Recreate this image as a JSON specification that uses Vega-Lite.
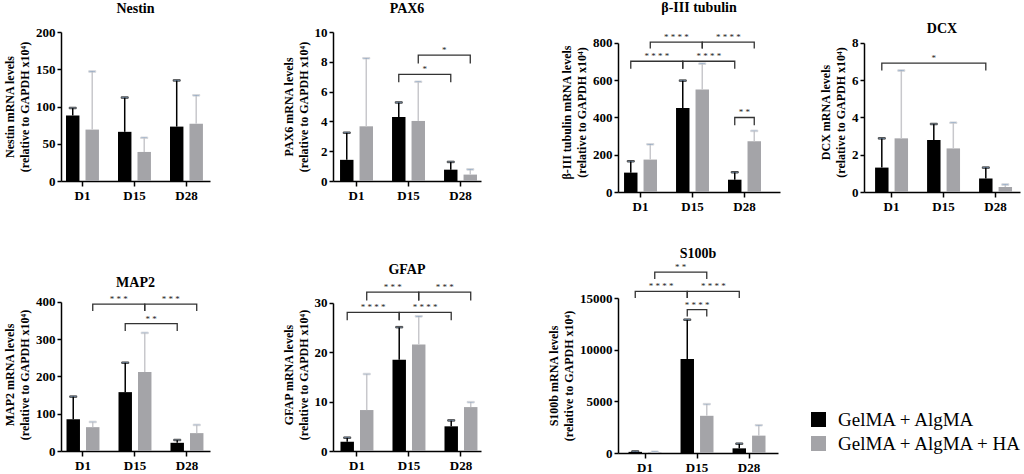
{
  "$schema": "https://vega.github.io/schema/vega-lite/v6.json",
  "background": "white",
  "padding": {"left": 3, "top": 1, "right": 0, "bottom": 0},
  "bounds": "flush",
  "columns": 7,
  "spacing": {"row": 106, "column": 0},
  "resolve": {"scale": {"fill": "independent"}, "legend": {"fill": "independent"}},
  "datasets": {
    "bars": [
      {"panel": "Nestin", "day": "D1", "grp": "GelMA + AlgMA", "mean": 88, "upper": 98},
      {"panel": "Nestin", "day": "D1", "grp": "GelMA + AlgMA + HA", "mean": 69, "upper": 147},
      {"panel": "Nestin", "day": "D15", "grp": "GelMA + AlgMA", "mean": 66, "upper": 112},
      {"panel": "Nestin", "day": "D15", "grp": "GelMA + AlgMA + HA", "mean": 39, "upper": 58},
      {"panel": "Nestin", "day": "D28", "grp": "GelMA + AlgMA", "mean": 73, "upper": 135},
      {"panel": "Nestin", "day": "D28", "grp": "GelMA + AlgMA + HA", "mean": 77, "upper": 115},
      {"panel": "PAX6", "day": "D1", "grp": "GelMA + AlgMA", "mean": 1.42, "upper": 3.24},
      {"panel": "PAX6", "day": "D1", "grp": "GelMA + AlgMA + HA", "mean": 3.67, "upper": 8.24},
      {"panel": "PAX6", "day": "D15", "grp": "GelMA + AlgMA", "mean": 4.3, "upper": 5.27},
      {"panel": "PAX6", "day": "D15", "grp": "GelMA + AlgMA + HA", "mean": 4.03, "upper": 6.66},
      {"panel": "PAX6", "day": "D28", "grp": "GelMA + AlgMA", "mean": 0.76, "upper": 1.28},
      {"panel": "PAX6", "day": "D28", "grp": "GelMA + AlgMA + HA", "mean": 0.43, "upper": 0.78},
      {"panel": "bIII", "day": "D1", "grp": "GelMA + AlgMA", "mean": 104, "upper": 165},
      {"panel": "bIII", "day": "D1", "grp": "GelMA + AlgMA + HA", "mean": 174, "upper": 256},
      {"panel": "bIII", "day": "D15", "grp": "GelMA + AlgMA", "mean": 451, "upper": 598},
      {"panel": "bIII", "day": "D15", "grp": "GelMA + AlgMA + HA", "mean": 550, "upper": 689},
      {"panel": "bIII", "day": "D28", "grp": "GelMA + AlgMA", "mean": 66, "upper": 106},
      {"panel": "bIII", "day": "D28", "grp": "GelMA + AlgMA + HA", "mean": 272, "upper": 328},
      {"panel": "DCX", "day": "D1", "grp": "GelMA + AlgMA", "mean": 1.31, "upper": 2.88},
      {"panel": "DCX", "day": "D1", "grp": "GelMA + AlgMA + HA", "mean": 2.88, "upper": 6.52},
      {"panel": "DCX", "day": "D15", "grp": "GelMA + AlgMA", "mean": 2.79, "upper": 3.65},
      {"panel": "DCX", "day": "D15", "grp": "GelMA + AlgMA + HA", "mean": 2.34, "upper": 3.72},
      {"panel": "DCX", "day": "D28", "grp": "GelMA + AlgMA", "mean": 0.72, "upper": 1.31},
      {"panel": "DCX", "day": "D28", "grp": "GelMA + AlgMA + HA", "mean": 0.27, "upper": 0.4},
      {"panel": "MAP2", "day": "D1", "grp": "GelMA + AlgMA", "mean": 85, "upper": 146},
      {"panel": "MAP2", "day": "D1", "grp": "GelMA + AlgMA + HA", "mean": 64, "upper": 78},
      {"panel": "MAP2", "day": "D15", "grp": "GelMA + AlgMA", "mean": 158, "upper": 237},
      {"panel": "MAP2", "day": "D15", "grp": "GelMA + AlgMA + HA", "mean": 212, "upper": 317},
      {"panel": "MAP2", "day": "D28", "grp": "GelMA + AlgMA", "mean": 22, "upper": 29.5},
      {"panel": "MAP2", "day": "D28", "grp": "GelMA + AlgMA + HA", "mean": 48, "upper": 70},
      {"panel": "GFAP", "day": "D1", "grp": "GelMA + AlgMA", "mean": 1.9, "upper": 2.7},
      {"panel": "GFAP", "day": "D1", "grp": "GelMA + AlgMA + HA", "mean": 8.3, "upper": 15.6},
      {"panel": "GFAP", "day": "D15", "grp": "GelMA + AlgMA", "mean": 18.5, "upper": 25.1},
      {"panel": "GFAP", "day": "D15", "grp": "GelMA + AlgMA + HA", "mean": 21.6, "upper": 27.3},
      {"panel": "GFAP", "day": "D28", "grp": "GelMA + AlgMA", "mean": 5.0, "upper": 6.2},
      {"panel": "GFAP", "day": "D28", "grp": "GelMA + AlgMA + HA", "mean": 8.9, "upper": 9.9},
      {"panel": "S100b", "day": "D1", "grp": "GelMA + AlgMA", "mean": 110, "upper": 150},
      {"panel": "S100b", "day": "D1", "grp": "GelMA + AlgMA + HA", "mean": 90, "upper": 120},
      {"panel": "S100b", "day": "D15", "grp": "GelMA + AlgMA", "mean": 9100, "upper": 12900},
      {"panel": "S100b", "day": "D15", "grp": "GelMA + AlgMA + HA", "mean": 3600, "upper": 4730},
      {"panel": "S100b", "day": "D28", "grp": "GelMA + AlgMA", "mean": 450, "upper": 900},
      {"panel": "S100b", "day": "D28", "grp": "GelMA + AlgMA + HA", "mean": 1680, "upper": 2690}
    ],
    "br": [
      {"panel": "PAX6", "id": "p1", "day": "D15", "grp": "GelMA + AlgMA", "y": 6.62},
      {"panel": "PAX6", "id": "p1", "day": "D15", "grp": "GelMA + AlgMA", "y": 7.16},
      {"panel": "PAX6", "id": "p1", "day": "D28", "grp": "GelMA + AlgMA", "y": 7.16},
      {"panel": "PAX6", "id": "p1", "day": "D28", "grp": "GelMA + AlgMA", "y": 6.62},
      {"panel": "PAX6", "id": "p2", "day": "D15", "grp": "GelMA + AlgMA + HA", "y": 7.88},
      {"panel": "PAX6", "id": "p2", "day": "D15", "grp": "GelMA + AlgMA + HA", "y": 8.45},
      {"panel": "PAX6", "id": "p2", "day": "D28", "grp": "GelMA + AlgMA + HA", "y": 8.45},
      {"panel": "PAX6", "id": "p2", "day": "D28", "grp": "GelMA + AlgMA + HA", "y": 7.88},
      {"panel": "bIII", "id": "b1", "day": "D1", "grp": "GelMA + AlgMA", "y": 662},
      {"panel": "bIII", "id": "b1", "day": "D1", "grp": "GelMA + AlgMA", "y": 702},
      {"panel": "bIII", "id": "b1", "day": "D15", "grp": "GelMA + AlgMA", "y": 702},
      {"panel": "bIII", "id": "b1", "day": "D15", "grp": "GelMA + AlgMA", "y": 662},
      {"panel": "bIII", "id": "b2", "day": "D15", "grp": "GelMA + AlgMA", "y": 662},
      {"panel": "bIII", "id": "b2", "day": "D15", "grp": "GelMA + AlgMA", "y": 702},
      {"panel": "bIII", "id": "b2", "day": "D28", "grp": "GelMA + AlgMA", "y": 702},
      {"panel": "bIII", "id": "b2", "day": "D28", "grp": "GelMA + AlgMA", "y": 662},
      {"panel": "bIII", "id": "b3", "day": "D1", "grp": "GelMA + AlgMA + HA", "y": 770},
      {"panel": "bIII", "id": "b3", "day": "D1", "grp": "GelMA + AlgMA + HA", "y": 805},
      {"panel": "bIII", "id": "b3", "day": "D15", "grp": "GelMA + AlgMA + HA", "y": 805},
      {"panel": "bIII", "id": "b3", "day": "D15", "grp": "GelMA + AlgMA + HA", "y": 770},
      {"panel": "bIII", "id": "b4", "day": "D15", "grp": "GelMA + AlgMA + HA", "y": 770},
      {"panel": "bIII", "id": "b4", "day": "D15", "grp": "GelMA + AlgMA + HA", "y": 805},
      {"panel": "bIII", "id": "b4", "day": "D28", "grp": "GelMA + AlgMA + HA", "y": 805},
      {"panel": "bIII", "id": "b4", "day": "D28", "grp": "GelMA + AlgMA + HA", "y": 770},
      {"panel": "bIII", "id": "b5", "day": "D28", "grp": "GelMA + AlgMA", "y": 358},
      {"panel": "bIII", "id": "b5", "day": "D28", "grp": "GelMA + AlgMA", "y": 400},
      {"panel": "bIII", "id": "b5", "day": "D28", "grp": "GelMA + AlgMA + HA", "y": 400},
      {"panel": "bIII", "id": "b5", "day": "D28", "grp": "GelMA + AlgMA + HA", "y": 358},
      {"panel": "DCX", "id": "d1", "day": "D1", "grp": "GelMA + AlgMA", "y": 6.52},
      {"panel": "DCX", "id": "d1", "day": "D1", "grp": "GelMA + AlgMA", "y": 6.92},
      {"panel": "DCX", "id": "d1", "day": "D28", "grp": "GelMA + AlgMA", "y": 6.92},
      {"panel": "DCX", "id": "d1", "day": "D28", "grp": "GelMA + AlgMA", "y": 6.52},
      {"panel": "MAP2", "id": "m1", "day": "D1", "grp": "GelMA + AlgMA + HA", "y": 376},
      {"panel": "MAP2", "id": "m1", "day": "D1", "grp": "GelMA + AlgMA + HA", "y": 394},
      {"panel": "MAP2", "id": "m1", "day": "D15", "grp": "GelMA + AlgMA + HA", "y": 394},
      {"panel": "MAP2", "id": "m1", "day": "D15", "grp": "GelMA + AlgMA + HA", "y": 376},
      {"panel": "MAP2", "id": "m2", "day": "D15", "grp": "GelMA + AlgMA + HA", "y": 376},
      {"panel": "MAP2", "id": "m2", "day": "D15", "grp": "GelMA + AlgMA + HA", "y": 394},
      {"panel": "MAP2", "id": "m2", "day": "D28", "grp": "GelMA + AlgMA + HA", "y": 394},
      {"panel": "MAP2", "id": "m2", "day": "D28", "grp": "GelMA + AlgMA + HA", "y": 376},
      {"panel": "MAP2", "id": "m3", "day": "D15", "grp": "GelMA + AlgMA", "y": 322},
      {"panel": "MAP2", "id": "m3", "day": "D15", "grp": "GelMA + AlgMA", "y": 342},
      {"panel": "MAP2", "id": "m3", "day": "D28", "grp": "GelMA + AlgMA", "y": 342},
      {"panel": "MAP2", "id": "m3", "day": "D28", "grp": "GelMA + AlgMA", "y": 322},
      {"panel": "GFAP", "id": "g1", "day": "D1", "grp": "GelMA + AlgMA", "y": 26.5},
      {"panel": "GFAP", "id": "g1", "day": "D1", "grp": "GelMA + AlgMA", "y": 28.1},
      {"panel": "GFAP", "id": "g1", "day": "D15", "grp": "GelMA + AlgMA", "y": 28.1},
      {"panel": "GFAP", "id": "g1", "day": "D15", "grp": "GelMA + AlgMA", "y": 26.5},
      {"panel": "GFAP", "id": "g2", "day": "D15", "grp": "GelMA + AlgMA", "y": 26.5},
      {"panel": "GFAP", "id": "g2", "day": "D15", "grp": "GelMA + AlgMA", "y": 28.1},
      {"panel": "GFAP", "id": "g2", "day": "D28", "grp": "GelMA + AlgMA", "y": 28.1},
      {"panel": "GFAP", "id": "g2", "day": "D28", "grp": "GelMA + AlgMA", "y": 26.5},
      {"panel": "GFAP", "id": "g3", "day": "D1", "grp": "GelMA + AlgMA + HA", "y": 30.5},
      {"panel": "GFAP", "id": "g3", "day": "D1", "grp": "GelMA + AlgMA + HA", "y": 32.2},
      {"panel": "GFAP", "id": "g3", "day": "D15", "grp": "GelMA + AlgMA + HA", "y": 32.2},
      {"panel": "GFAP", "id": "g3", "day": "D15", "grp": "GelMA + AlgMA + HA", "y": 30.5},
      {"panel": "GFAP", "id": "g4", "day": "D15", "grp": "GelMA + AlgMA + HA", "y": 30.5},
      {"panel": "GFAP", "id": "g4", "day": "D15", "grp": "GelMA + AlgMA + HA", "y": 32.2},
      {"panel": "GFAP", "id": "g4", "day": "D28", "grp": "GelMA + AlgMA + HA", "y": 32.2},
      {"panel": "GFAP", "id": "g4", "day": "D28", "grp": "GelMA + AlgMA + HA", "y": 30.5},
      {"panel": "S100b", "id": "s1", "day": "D1", "grp": "GelMA + AlgMA", "y": 15000},
      {"panel": "S100b", "id": "s1", "day": "D1", "grp": "GelMA + AlgMA", "y": 15650},
      {"panel": "S100b", "id": "s1", "day": "D15", "grp": "GelMA + AlgMA", "y": 15650},
      {"panel": "S100b", "id": "s1", "day": "D15", "grp": "GelMA + AlgMA", "y": 15000},
      {"panel": "S100b", "id": "s2", "day": "D15", "grp": "GelMA + AlgMA", "y": 15000},
      {"panel": "S100b", "id": "s2", "day": "D15", "grp": "GelMA + AlgMA", "y": 15650},
      {"panel": "S100b", "id": "s2", "day": "D28", "grp": "GelMA + AlgMA", "y": 15650},
      {"panel": "S100b", "id": "s2", "day": "D28", "grp": "GelMA + AlgMA", "y": 15000},
      {"panel": "S100b", "id": "s3", "day": "D1", "grp": "GelMA + AlgMA + HA", "y": 16850},
      {"panel": "S100b", "id": "s3", "day": "D1", "grp": "GelMA + AlgMA + HA", "y": 17500},
      {"panel": "S100b", "id": "s3", "day": "D15", "grp": "GelMA + AlgMA + HA", "y": 17500},
      {"panel": "S100b", "id": "s3", "day": "D15", "grp": "GelMA + AlgMA + HA", "y": 16850},
      {"panel": "S100b", "id": "s4", "day": "D15", "grp": "GelMA + AlgMA", "y": 13220},
      {"panel": "S100b", "id": "s4", "day": "D15", "grp": "GelMA + AlgMA", "y": 13870},
      {"panel": "S100b", "id": "s4", "day": "D15", "grp": "GelMA + AlgMA + HA", "y": 13870},
      {"panel": "S100b", "id": "s4", "day": "D15", "grp": "GelMA + AlgMA + HA", "y": 13220}
    ],
    "lab": [
      {"panel": "PAX6", "span": "adj", "day": "D15", "grp": "GelMA + AlgMA", "y": 7.16, "label": "*"},
      {"panel": "PAX6", "span": "adj", "day": "D15", "grp": "GelMA + AlgMA + HA", "y": 8.45, "label": "*"},
      {"panel": "bIII", "span": "adj", "day": "D1", "grp": "GelMA + AlgMA", "y": 702, "label": "* * * *"},
      {"panel": "bIII", "span": "adj", "day": "D15", "grp": "GelMA + AlgMA", "y": 702, "label": "* * * *"},
      {"panel": "bIII", "span": "adj", "day": "D1", "grp": "GelMA + AlgMA + HA", "y": 805, "label": "* * * *"},
      {"panel": "bIII", "span": "adj", "day": "D15", "grp": "GelMA + AlgMA + HA", "y": 805, "label": "* * * *"},
      {"panel": "bIII", "span": "in", "day": "D28", "grp": "GelMA + AlgMA", "y": 400, "label": "* *"},
      {"panel": "DCX", "span": "two", "day": "D1", "grp": "GelMA + AlgMA", "y": 6.92, "label": "*"},
      {"panel": "MAP2", "span": "adj", "day": "D1", "grp": "GelMA + AlgMA + HA", "y": 394, "label": "* * *"},
      {"panel": "MAP2", "span": "adj", "day": "D15", "grp": "GelMA + AlgMA + HA", "y": 394, "label": "* * *"},
      {"panel": "MAP2", "span": "adj", "day": "D15", "grp": "GelMA + AlgMA", "y": 342, "label": "* *"},
      {"panel": "GFAP", "span": "adj", "day": "D1", "grp": "GelMA + AlgMA", "y": 28.1, "label": "* * * *"},
      {"panel": "GFAP", "span": "adj", "day": "D15", "grp": "GelMA + AlgMA", "y": 28.1, "label": "* * * *"},
      {"panel": "GFAP", "span": "adj", "day": "D1", "grp": "GelMA + AlgMA + HA", "y": 32.2, "label": "* * *"},
      {"panel": "GFAP", "span": "adj", "day": "D15", "grp": "GelMA + AlgMA + HA", "y": 32.2, "label": "* * *"},
      {"panel": "S100b", "span": "adj", "day": "D1", "grp": "GelMA + AlgMA", "y": 15650, "label": "* * * *"},
      {"panel": "S100b", "span": "adj", "day": "D15", "grp": "GelMA + AlgMA", "y": 15650, "label": "* * * *"},
      {"panel": "S100b", "span": "adj", "day": "D1", "grp": "GelMA + AlgMA + HA", "y": 17500, "label": "* *"},
      {"panel": "S100b", "span": "in", "day": "D15", "grp": "GelMA + AlgMA", "y": 13870, "label": "* * * *"}
    ]
  },
  "concat": [
    {
      "title": {"text": "Nestin", "offset": 10},
      "width": 149, "height": 149,
      "encoding": {
        "x": {"field": "day", "type": "nominal", "title": null, "scale": {"domain": ["D1", "D15", "D28"], "paddingInner": 0.3, "paddingOuter": 0.083, "align": 0.38}},
        "xOffset": {"field": "grp", "type": "nominal", "scale": {"domain": ["GelMA + AlgMA", "GelMA + AlgMA + HA"], "paddingInner": 0.31, "paddingOuter": 0.088}}
      },
      "layer": [
        {"data": {"name": "bars"}, "transform": [{"filter": "datum.panel == 'Nestin'"}], "mark": "bar",
         "encoding": {
           "y": {"field": "mean", "type": "quantitative", "scale": {"domain": [0, 200], "nice": false}, "axis": {"values": [0, 50, 100, 150, 200], "tickCount": 20, "format": "d", "labelOverlap": false, "title": ["Nestin mRNA levels", "(relative to GAPDH x10⁴)"]}},
           "fill": {"field": "grp", "type": "nominal", "scale": {"domain": ["GelMA + AlgMA", "GelMA + AlgMA + HA"], "range": ["#000000", "#a4a4a8"]}, "legend": null}}},
        {"data": {"name": "bars"}, "transform": [{"filter": "datum.panel == 'Nestin'"}], "mark": "rule",
         "encoding": {"y": {"field": "mean", "type": "quantitative"}, "y2": {"field": "upper"},
           "stroke": {"condition": {"test": "datum.grp == 'GelMA + AlgMA'", "value": "#000000"}, "value": "#c8c8cc"}}},
        {"data": {"name": "bars"}, "transform": [{"filter": "datum.panel == 'Nestin'"}], "mark": {"type": "tick", "orient": "horizontal"},
         "encoding": {"y": {"field": "upper", "type": "quantitative"},
           "stroke": {"condition": {"test": "datum.grp == 'GelMA + AlgMA'", "value": "#000000"}, "value": "#c8c8cc"}}}
      ]
    },
    {"width": 123, "height": 1, "data": {"values": [{}]}, "mark": {"type": "text", "text": ""}},
    {
      "title": {"text": "PAX6", "offset": 10},
      "width": 148, "height": 149,
      "encoding": {
        "x": {"field": "day", "type": "nominal", "title": null, "scale": {"domain": ["D1", "D15", "D28"], "paddingInner": 0.3, "paddingOuter": 0.073, "align": 0.7}},
        "xOffset": {"field": "grp", "type": "nominal", "scale": {"domain": ["GelMA + AlgMA", "GelMA + AlgMA + HA"], "paddingInner": 0.31, "paddingOuter": 0.088}}
      },
      "layer": [
        {"data": {"name": "bars"}, "transform": [{"filter": "datum.panel == 'PAX6'"}], "mark": "bar",
         "encoding": {
           "y": {"field": "mean", "type": "quantitative", "scale": {"domain": [0, 10], "nice": false}, "axis": {"values": [0, 2, 4, 6, 8, 10], "tickCount": 20, "format": "d", "labelOverlap": false, "title": ["PAX6 mRNA levels", "(relative to GAPDH x10⁴)"]}},
           "fill": {"field": "grp", "type": "nominal", "scale": {"domain": ["GelMA + AlgMA", "GelMA + AlgMA + HA"], "range": ["#000000", "#a4a4a8"]}, "legend": null}}},
        {"data": {"name": "bars"}, "transform": [{"filter": "datum.panel == 'PAX6'"}], "mark": "rule",
         "encoding": {"y": {"field": "mean", "type": "quantitative"}, "y2": {"field": "upper"},
           "stroke": {"condition": {"test": "datum.grp == 'GelMA + AlgMA'", "value": "#000000"}, "value": "#c8c8cc"}}},
        {"data": {"name": "bars"}, "transform": [{"filter": "datum.panel == 'PAX6'"}], "mark": {"type": "tick", "orient": "horizontal"},
         "encoding": {"y": {"field": "upper", "type": "quantitative"},
           "stroke": {"condition": {"test": "datum.grp == 'GelMA + AlgMA'", "value": "#000000"}, "value": "#c8c8cc"}}},
        {"data": {"name": "br"}, "transform": [{"filter": "datum.panel == 'PAX6'"}], "mark": "line",
         "encoding": {"y": {"field": "y", "type": "quantitative"}, "detail": {"field": "id"}, "order": {"value": null}}},
        {"data": {"name": "lab"}, "transform": [{"filter": "datum.panel == 'PAX6' && datum.span == 'adj'"}], "mark": {"type": "text", "dx": 26},
         "encoding": {"y": {"field": "y", "type": "quantitative"}, "text": {"field": "label"}}}
      ]
    },
    {"width": 137, "height": 1, "data": {"values": [{}]}, "mark": {"type": "text", "text": ""}},
    {
      "title": {"text": "β-III tubulin", "offset": 17},
      "width": 162, "height": 160,
      "encoding": {
        "x": {"field": "day", "type": "nominal", "title": null, "scale": {"domain": ["D1", "D15", "D28"], "paddingInner": 0.3, "paddingOuter": 0.208, "align": 0.2}},
        "xOffset": {"field": "grp", "type": "nominal", "scale": {"domain": ["GelMA + AlgMA", "GelMA + AlgMA + HA"], "paddingInner": 0.31, "paddingOuter": 0.088}}
      },
      "layer": [
        {"data": {"name": "bars"}, "transform": [{"filter": "datum.panel == 'bIII'"}], "mark": "bar",
         "encoding": {
           "y": {"field": "mean", "type": "quantitative", "scale": {"domain": [0, 859], "nice": false}, "axis": {"values": [0, 200, 400, 600, 800], "tickCount": 20, "format": "d", "labelOverlap": false, "domainDash": [149, 40], "title": ["β-III tubulin mRNA levels", "(relative to GAPDH x10⁴)"]}},
           "fill": {"field": "grp", "type": "nominal", "scale": {"domain": ["GelMA + AlgMA", "GelMA + AlgMA + HA"], "range": ["#000000", "#a4a4a8"]}, "legend": null}}},
        {"data": {"name": "bars"}, "transform": [{"filter": "datum.panel == 'bIII'"}], "mark": "rule",
         "encoding": {"y": {"field": "mean", "type": "quantitative"}, "y2": {"field": "upper"},
           "stroke": {"condition": {"test": "datum.grp == 'GelMA + AlgMA'", "value": "#000000"}, "value": "#c8c8cc"}}},
        {"data": {"name": "bars"}, "transform": [{"filter": "datum.panel == 'bIII'"}], "mark": {"type": "tick", "orient": "horizontal"},
         "encoding": {"y": {"field": "upper", "type": "quantitative"},
           "stroke": {"condition": {"test": "datum.grp == 'GelMA + AlgMA'", "value": "#000000"}, "value": "#c8c8cc"}}},
        {"data": {"name": "br"}, "transform": [{"filter": "datum.panel == 'bIII'"}], "mark": "line",
         "encoding": {"y": {"field": "y", "type": "quantitative"}, "detail": {"field": "id"}, "order": {"value": null}}},
        {"data": {"name": "lab"}, "transform": [{"filter": "datum.panel == 'bIII' && datum.span == 'adj'"}], "mark": {"type": "text", "dx": 26},
         "encoding": {"y": {"field": "y", "type": "quantitative"}, "text": {"field": "label"}}},
        {"data": {"name": "lab"}, "transform": [{"filter": "datum.panel == 'bIII' && datum.span == 'in'"}], "mark": {"type": "text", "dx": 9.75},
         "encoding": {"y": {"field": "y", "type": "quantitative"}, "text": {"field": "label"}}}
      ]
    },
    {"width": 84, "height": 1, "data": {"values": [{}]}, "mark": {"type": "text", "text": ""}},
    {
      "title": {"text": "DCX", "offset": -4},
      "width": 156, "height": 160,
      "encoding": {
        "x": {"field": "day", "type": "nominal", "title": null, "scale": {"domain": ["D1", "D15", "D28"], "paddingInner": 0.3, "paddingOuter": 0.15, "align": 0.6}},
        "xOffset": {"field": "grp", "type": "nominal", "scale": {"domain": ["GelMA + AlgMA", "GelMA + AlgMA + HA"], "paddingInner": 0.31, "paddingOuter": 0.088}}
      },
      "layer": [
        {"data": {"name": "bars"}, "transform": [{"filter": "datum.panel == 'DCX'"}], "mark": "bar",
         "encoding": {
           "y": {"field": "mean", "type": "quantitative", "scale": {"domain": [0, 8.59], "nice": false}, "axis": {"values": [0, 2, 4, 6, 8], "tickCount": 20, "format": "d", "labelOverlap": false, "domainDash": [149, 40], "title": ["DCX mRNA levels", "(relative to GAPDH x10⁴)"]}},
           "fill": {"field": "grp", "type": "nominal", "scale": {"domain": ["GelMA + AlgMA", "GelMA + AlgMA + HA"], "range": ["#000000", "#a4a4a8"]}, "legend": null}}},
        {"data": {"name": "bars"}, "transform": [{"filter": "datum.panel == 'DCX'"}], "mark": "rule",
         "encoding": {"y": {"field": "mean", "type": "quantitative"}, "y2": {"field": "upper"},
           "stroke": {"condition": {"test": "datum.grp == 'GelMA + AlgMA'", "value": "#000000"}, "value": "#c8c8cc"}}},
        {"data": {"name": "bars"}, "transform": [{"filter": "datum.panel == 'DCX'"}], "mark": {"type": "tick", "orient": "horizontal"},
         "encoding": {"y": {"field": "upper", "type": "quantitative"},
           "stroke": {"condition": {"test": "datum.grp == 'GelMA + AlgMA'", "value": "#000000"}, "value": "#c8c8cc"}}},
        {"data": {"name": "br"}, "transform": [{"filter": "datum.panel == 'DCX'"}], "mark": "line",
         "encoding": {"y": {"field": "y", "type": "quantitative"}, "detail": {"field": "id"}, "order": {"value": null}}},
        {"data": {"name": "lab"}, "transform": [{"filter": "datum.panel == 'DCX' && datum.span == 'two'"}], "mark": {"type": "text", "dx": 52},
         "encoding": {"y": {"field": "y", "type": "quantitative"}, "text": {"field": "label"}}}
      ]
    },
    {
      "title": {"text": "MAP2", "offset": 5},
      "width": 149, "height": 153,
      "encoding": {
        "x": {"field": "day", "type": "nominal", "title": null, "scale": {"domain": ["D1", "D15", "D28"], "paddingInner": 0.3, "paddingOuter": 0.083, "align": 0.44}},
        "xOffset": {"field": "grp", "type": "nominal", "scale": {"domain": ["GelMA + AlgMA", "GelMA + AlgMA + HA"], "paddingInner": 0.31, "paddingOuter": 0.088}}
      },
      "layer": [
        {"data": {"name": "bars"}, "transform": [{"filter": "datum.panel == 'MAP2'"}], "mark": "bar",
         "encoding": {
           "y": {"field": "mean", "type": "quantitative", "scale": {"domain": [0, 410.7], "nice": false}, "axis": {"values": [0, 100, 200, 300, 400], "tickCount": 20, "format": "d", "labelOverlap": false, "domainDash": [149, 40], "title": ["MAP2 mRNA levels", "(relative to GAPDH x10⁴)"]}},
           "fill": {"field": "grp", "type": "nominal", "scale": {"domain": ["GelMA + AlgMA", "GelMA + AlgMA + HA"], "range": ["#000000", "#a4a4a8"]}, "legend": null}}},
        {"data": {"name": "bars"}, "transform": [{"filter": "datum.panel == 'MAP2'"}], "mark": "rule",
         "encoding": {"y": {"field": "mean", "type": "quantitative"}, "y2": {"field": "upper"},
           "stroke": {"condition": {"test": "datum.grp == 'GelMA + AlgMA'", "value": "#000000"}, "value": "#c8c8cc"}}},
        {"data": {"name": "bars"}, "transform": [{"filter": "datum.panel == 'MAP2'"}], "mark": {"type": "tick", "orient": "horizontal"},
         "encoding": {"y": {"field": "upper", "type": "quantitative"},
           "stroke": {"condition": {"test": "datum.grp == 'GelMA + AlgMA'", "value": "#000000"}, "value": "#c8c8cc"}}},
        {"data": {"name": "br"}, "transform": [{"filter": "datum.panel == 'MAP2'"}], "mark": "line",
         "encoding": {"y": {"field": "y", "type": "quantitative"}, "detail": {"field": "id"}, "order": {"value": null}}},
        {"data": {"name": "lab"}, "transform": [{"filter": "datum.panel == 'MAP2' && datum.span == 'adj'"}], "mark": {"type": "text", "dx": 26},
         "encoding": {"y": {"field": "y", "type": "quantitative"}, "text": {"field": "label"}}}
      ]
    },
    {"width": 123, "height": 1, "data": {"values": [{}]}, "mark": {"type": "text", "text": ""}},
    {
      "title": {"text": "GFAP", "offset": 6},
      "width": 148, "height": 153,
      "encoding": {
        "x": {"field": "day", "type": "nominal", "title": null, "scale": {"domain": ["D1", "D15", "D28"], "paddingInner": 0.3, "paddingOuter": 0.073, "align": 0.76}},
        "xOffset": {"field": "grp", "type": "nominal", "scale": {"domain": ["GelMA + AlgMA", "GelMA + AlgMA + HA"], "paddingInner": 0.31, "paddingOuter": 0.088}}
      },
      "layer": [
        {"data": {"name": "bars"}, "transform": [{"filter": "datum.panel == 'GFAP'"}], "mark": "bar",
         "encoding": {
           "y": {"field": "mean", "type": "quantitative", "scale": {"domain": [0, 31.01], "nice": false}, "axis": {"values": [0, 10, 20, 30], "tickCount": 20, "format": "d", "labelOverlap": false, "domainDash": [148, 40], "title": ["GFAP mRNA levels", "(relative to GAPDH x10⁴)"]}},
           "fill": {"field": "grp", "type": "nominal", "scale": {"domain": ["GelMA + AlgMA", "GelMA + AlgMA + HA"], "range": ["#000000", "#a4a4a8"]}, "legend": null}}},
        {"data": {"name": "bars"}, "transform": [{"filter": "datum.panel == 'GFAP'"}], "mark": "rule",
         "encoding": {"y": {"field": "mean", "type": "quantitative"}, "y2": {"field": "upper"},
           "stroke": {"condition": {"test": "datum.grp == 'GelMA + AlgMA'", "value": "#000000"}, "value": "#c8c8cc"}}},
        {"data": {"name": "bars"}, "transform": [{"filter": "datum.panel == 'GFAP'"}], "mark": {"type": "tick", "orient": "horizontal"},
         "encoding": {"y": {"field": "upper", "type": "quantitative"},
           "stroke": {"condition": {"test": "datum.grp == 'GelMA + AlgMA'", "value": "#000000"}, "value": "#c8c8cc"}}},
        {"data": {"name": "br"}, "transform": [{"filter": "datum.panel == 'GFAP'"}], "mark": "line",
         "encoding": {"y": {"field": "y", "type": "quantitative"}, "detail": {"field": "id"}, "order": {"value": null}}},
        {"data": {"name": "lab"}, "transform": [{"filter": "datum.panel == 'GFAP' && datum.span == 'adj'"}], "mark": {"type": "text", "dx": 26},
         "encoding": {"y": {"field": "y", "type": "quantitative"}, "text": {"field": "label"}}}
      ]
    },
    {"width": 137, "height": 1, "data": {"values": [{}]}, "mark": {"type": "text", "text": ""}},
    {
      "title": {"text": "S100b", "offset": 2},
      "width": 160, "height": 155,
      "encoding": {
        "x": {"field": "day", "type": "nominal", "title": null, "scale": {"domain": ["D1", "D15", "D28"], "paddingInner": 0.3, "paddingOuter": 0.188, "align": 0.45}},
        "xOffset": {"field": "grp", "type": "nominal", "scale": {"domain": ["GelMA + AlgMA", "GelMA + AlgMA + HA"], "paddingInner": 0.31, "paddingOuter": 0.088}}
      },
      "layer": [
        {"data": {"name": "bars"}, "transform": [{"filter": "datum.panel == 'S100b'"}], "mark": "bar",
         "encoding": {
           "y": {"field": "mean", "type": "quantitative", "scale": {"domain": [0, 15000], "nice": false}, "axis": {"values": [0, 5000, 10000, 15000], "tickCount": 20, "format": "d", "labelOverlap": false, "title": ["S100b mRNA levels", "(relative to GAPDH x10⁴)"]}},
           "fill": {"field": "grp", "type": "nominal", "scale": {"domain": ["GelMA + AlgMA", "GelMA + AlgMA + HA"], "range": ["#000000", "#a4a4a8"]},
             "legend": {"orient": "none", "legendX": 191, "legendY": 112, "title": null, "labelFont": "Liberation Serif", "labelFontSize": 19, "labelFontWeight": "normal"}}}},
        {"data": {"name": "bars"}, "transform": [{"filter": "datum.panel == 'S100b'"}], "mark": "rule",
         "encoding": {"y": {"field": "mean", "type": "quantitative"}, "y2": {"field": "upper"},
           "stroke": {"condition": {"test": "datum.grp == 'GelMA + AlgMA'", "value": "#000000"}, "value": "#c8c8cc"}}},
        {"data": {"name": "bars"}, "transform": [{"filter": "datum.panel == 'S100b'"}], "mark": {"type": "tick", "orient": "horizontal"},
         "encoding": {"y": {"field": "upper", "type": "quantitative"},
           "stroke": {"condition": {"test": "datum.grp == 'GelMA + AlgMA'", "value": "#000000"}, "value": "#c8c8cc"}}},
        {"data": {"name": "br"}, "transform": [{"filter": "datum.panel == 'S100b'"}], "mark": "line",
         "encoding": {"y": {"field": "y", "type": "quantitative"}, "detail": {"field": "id"}, "order": {"value": null}}},
        {"data": {"name": "lab"}, "transform": [{"filter": "datum.panel == 'S100b' && datum.span == 'adj'"}], "mark": {"type": "text", "dx": 26},
         "encoding": {"y": {"field": "y", "type": "quantitative"}, "text": {"field": "label"}}},
        {"data": {"name": "lab"}, "transform": [{"filter": "datum.panel == 'S100b' && datum.span == 'in'"}], "mark": {"type": "text", "dx": 9.75},
         "encoding": {"y": {"field": "y", "type": "quantitative"}, "text": {"field": "label"}}}
      ]
    }
  ],
  "config": {
    "view": {"stroke": null},
    "font": "Liberation Serif",
    "title": {"font": "Liberation Serif", "fontSize": 14, "fontWeight": "bold", "color": "#000000", "anchor": "middle", "frame": "group"},
    "axis": {"grid": false, "domainColor": "#000000", "domainWidth": 1.5, "tickColor": "#000000", "tickWidth": 1.5, "tickSize": 4,
      "labelFont": "Liberation Serif", "labelFontWeight": "bold", "labelFontSize": 13, "labelColor": "#000000",
      "titleFont": "Liberation Serif", "titleFontWeight": "bold", "titleFontSize": 12, "titleColor": "#000000"},
    "axisX": {"labelAngle": 0, "labelFontSize": 13, "tickSize": 5, "labelPadding": 3},
    "axisY": {"labelPadding": 2, "titlePadding": 4, "titleLineHeight": 15},
    "bar": {"stroke": null},
    "rule": {"strokeWidth": 1.5},
    "tick": {"thickness": 1.5, "size": 7},
    "line": {"stroke": "#333333", "strokeWidth": 1.3},
    "text": {"font": "Liberation Serif", "fontSize": 9, "baseline": "alphabetic", "dy": -2, "color": "#222222"},
    "legend": {"symbolType": "square", "symbolSize": 225, "symbolStrokeWidth": 0, "labelFont": "Liberation Serif", "labelFontSize": 19,
      "labelColor": "#000000", "labelLimit": 400, "rowPadding": 4, "labelOffset": 10, "padding": 0}
  }
}
